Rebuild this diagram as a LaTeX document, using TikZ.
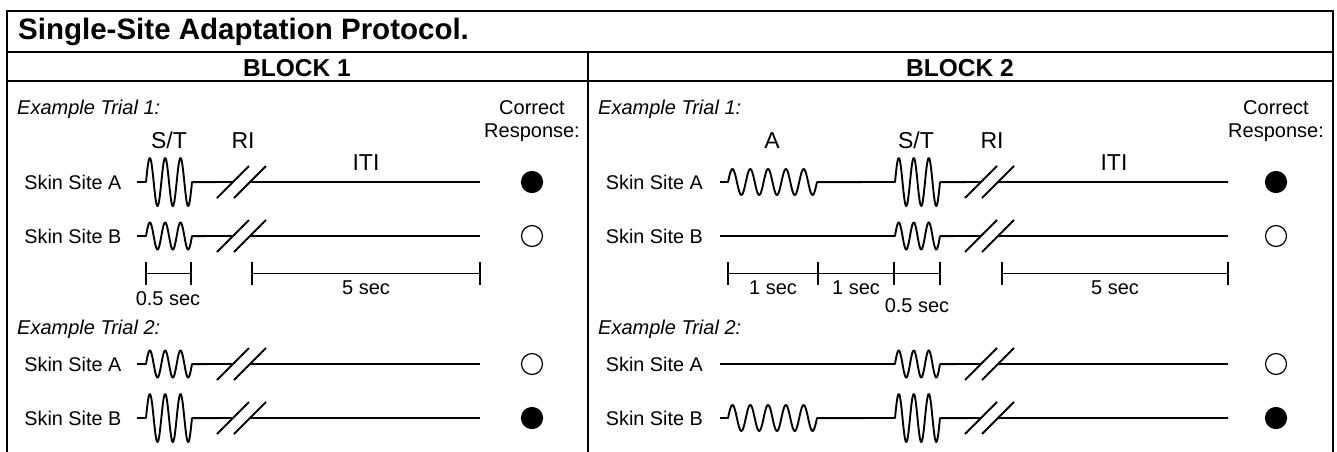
\documentclass[tikz,border=0pt]{standalone}
\usepackage{fontspec}
\setmainfont{Liberation Sans}
\newcommand\mywave[5]{-- plot[variable=\t, domain=0:#5, samples=121, smooth] ({#1+(#2-#1)*\t/#5}, {#3-#4*sin(360*\t)})}
\newcommand\mybreak[2]{%
  \draw[sig] ({#1},{#2+16}) -- ({#1+32},{#2-16});
  \draw[sig] ({#1+17},{#2+16}) -- ({#1+49},{#2-16});}
\tikzset{
  frame/.style={line width=2pt, line cap=rect},
  sig/.style={line width=1.9pt, line join=round},
  barline/.style={line width=1.1pt},
  titletxt/.style={font=\fontsize{29.5}{34}\selectfont\bfseries, inner sep=0pt},
  blocktxt/.style={font=\fontsize{24.5}{28}\selectfont\bfseries, inner sep=0pt},
  extxt/.style={font=\fontsize{20}{24}\selectfont\itshape, inner sep=0pt, anchor=base west},
  txt/.style={font=\fontsize{20}{24}\selectfont, inner sep=0pt},
  bigtxt/.style={font=\fontsize{23}{27}\selectfont, inner sep=0pt, anchor=base},
  sitetxt/.style={font=\fontsize{19.8}{24}\selectfont, inner sep=0pt, anchor=base east},
  fullresp/.style={fill=black, draw=black, line width=1.2pt},
  openresp/.style={fill=white, draw=black, line width=1.2pt},
}
\begin{document}
\begin{tikzpicture}[x=1pt, y=-1pt]
\useasboundingbox (0,0) rectangle (1337,451);
\fill[white] (0,0) rectangle (1337,451);
% frame
\draw[frame] (7,452) -- (7,11) -- (1333,11) -- (1333,452);
\draw[frame] (7,52) -- (1333,52);
\draw[frame] (7,81) -- (1333,81);
\draw[frame] (588,52) -- (588,452);
% headings
\node[titletxt, anchor=base west] (title) at (18,39.5) {Single-Site Adaptation Protocol.};
\node[blocktxt, anchor=base] (blk1) at (297,76.5) {BLOCK 1};
\node[blocktxt, anchor=base] (blk2) at (960,76.5) {BLOCK 2};
% ---------- BLOCK 1 ----------
\node[extxt] (ex11) at (17,114) {Example Trial 1:};
\node[txt, anchor=base] (cor1) at (532,114.5) {Correct};
\node[txt, anchor=base] (resp1) at (532,137) {Response:};
\node[bigtxt] (st1) at (169,148) {S/T};
\node[bigtxt] (ri1) at (243,148) {RI};
\node[bigtxt] (iti1) at (366,170) {ITI};
\node[sitetxt] (sa11) at (121.5,189.5) {Skin Site A};
\node[sitetxt] (sb11) at (121.5,243.5) {Skin Site B};
% traces trial 1
\draw[sig] (137,182) -- (146,182) \mywave{146}{192}{182}{24}{3} -- (233,182);
\mybreak{217}{182}
\draw[sig] (250,182) -- (480,182);
\draw[sig] (137,236) -- (146,236) \mywave{146}{192}{236}{13.5}{3} -- (233,236);
\mybreak{217}{236}
\draw[sig] (250,236) -- (480,236);
\draw[fullresp] (532,182) circle[radius=10.5pt];
\draw[openresp] (532,236) circle[radius=10.5pt];
% scale bars
\draw[barline] (146,262) -- (146,285) (146,273.5) -- (191,273.5) (191,262) -- (191,285);
\draw[barline] (252,262) -- (252,285) (252,273.5) -- (480,273.5) (480,262) -- (480,285);
\node[txt, anchor=base] (s05a) at (168,305) {0.5 sec};
\node[txt, anchor=base] (s5a) at (366,294) {5 sec};
% trial 2
\node[extxt] (ex12) at (17,334) {Example Trial 2:};
\node[sitetxt] (sa12) at (121.5,371.5) {Skin Site A};
\node[sitetxt] (sb12) at (121.5,425.5) {Skin Site B};
\draw[sig] (137,364) -- (146,364) \mywave{146}{192}{364}{13.5}{3} -- (233,364);
\mybreak{217}{364}
\draw[sig] (250,364) -- (480,364);
\draw[sig] (137,418) -- (146,418) \mywave{146}{192}{418}{24}{3} -- (233,418);
\mybreak{217}{418}
\draw[sig] (250,418) -- (480,418);
\draw[openresp] (532,364) circle[radius=10.5pt];
\draw[fullresp] (532,418) circle[radius=10.5pt];
% ---------- BLOCK 2 ----------
\node[extxt] (ex21) at (598,114) {Example Trial 1:};
\node[txt, anchor=base] (cor2) at (1276,114.5) {Correct};
\node[txt, anchor=base] (resp2) at (1276,137) {Response:};
\node[bigtxt] (a2) at (772,148) {A};
\node[bigtxt] (st2) at (916,148) {S/T};
\node[bigtxt] (ri2) at (992,148) {RI};
\node[bigtxt] (iti2) at (1114,170) {ITI};
\node[sitetxt] (sa21) at (703,189.5) {Skin Site A};
\node[sitetxt] (sb21) at (703,243.5) {Skin Site B};
\draw[sig] (720,182) -- (728,182) \mywave{728}{817}{182}{13}{5} -- (895,182) \mywave{895}{940}{182}{24}{3} -- (981,182);
\mybreak{965}{182}
\draw[sig] (998,182) -- (1228,182);
\draw[sig] (720,236) -- (895,236) \mywave{895}{940}{236}{13.5}{3} -- (981,236);
\mybreak{965}{236}
\draw[sig] (998,236) -- (1228,236);
\draw[fullresp] (1276,182) circle[radius=10.5pt];
\draw[openresp] (1276,236) circle[radius=10.5pt];
% scale bars
\draw[barline] (728,262) -- (728,285) (728,273.5) -- (940,273.5) (818,262) -- (818,285) (894,262) -- (894,285) (940,262) -- (940,285);
\draw[barline] (1002,262) -- (1002,285) (1002,273.5) -- (1228,273.5) (1228,262) -- (1228,285);
\node[txt, anchor=base] (s1a) at (773,294) {1 sec};
\node[txt, anchor=base] (s1b) at (856,294) {1 sec};
\node[txt, anchor=base] (s05b) at (917,312) {0.5 sec};
\node[txt, anchor=base] (s5b) at (1115,294) {5 sec};
% trial 2
\node[extxt] (ex22) at (598,334) {Example Trial 2:};
\node[sitetxt] (sa22) at (703,371.5) {Skin Site A};
\node[sitetxt] (sb22) at (703,425.5) {Skin Site B};
\draw[sig] (720,364) -- (895,364) \mywave{895}{940}{364}{13.5}{3} -- (981,364);
\mybreak{965}{364}
\draw[sig] (998,364) -- (1228,364);
\draw[sig] (720,418) -- (728,418) \mywave{728}{817}{418}{13}{5} -- (895,418) \mywave{895}{940}{418}{24}{3} -- (981,418);
\mybreak{965}{418}
\draw[sig] (998,418) -- (1228,418);
\draw[openresp] (1276,364) circle[radius=10.5pt];
\draw[fullresp] (1276,418) circle[radius=10.5pt];
\end{tikzpicture}
\end{document}
